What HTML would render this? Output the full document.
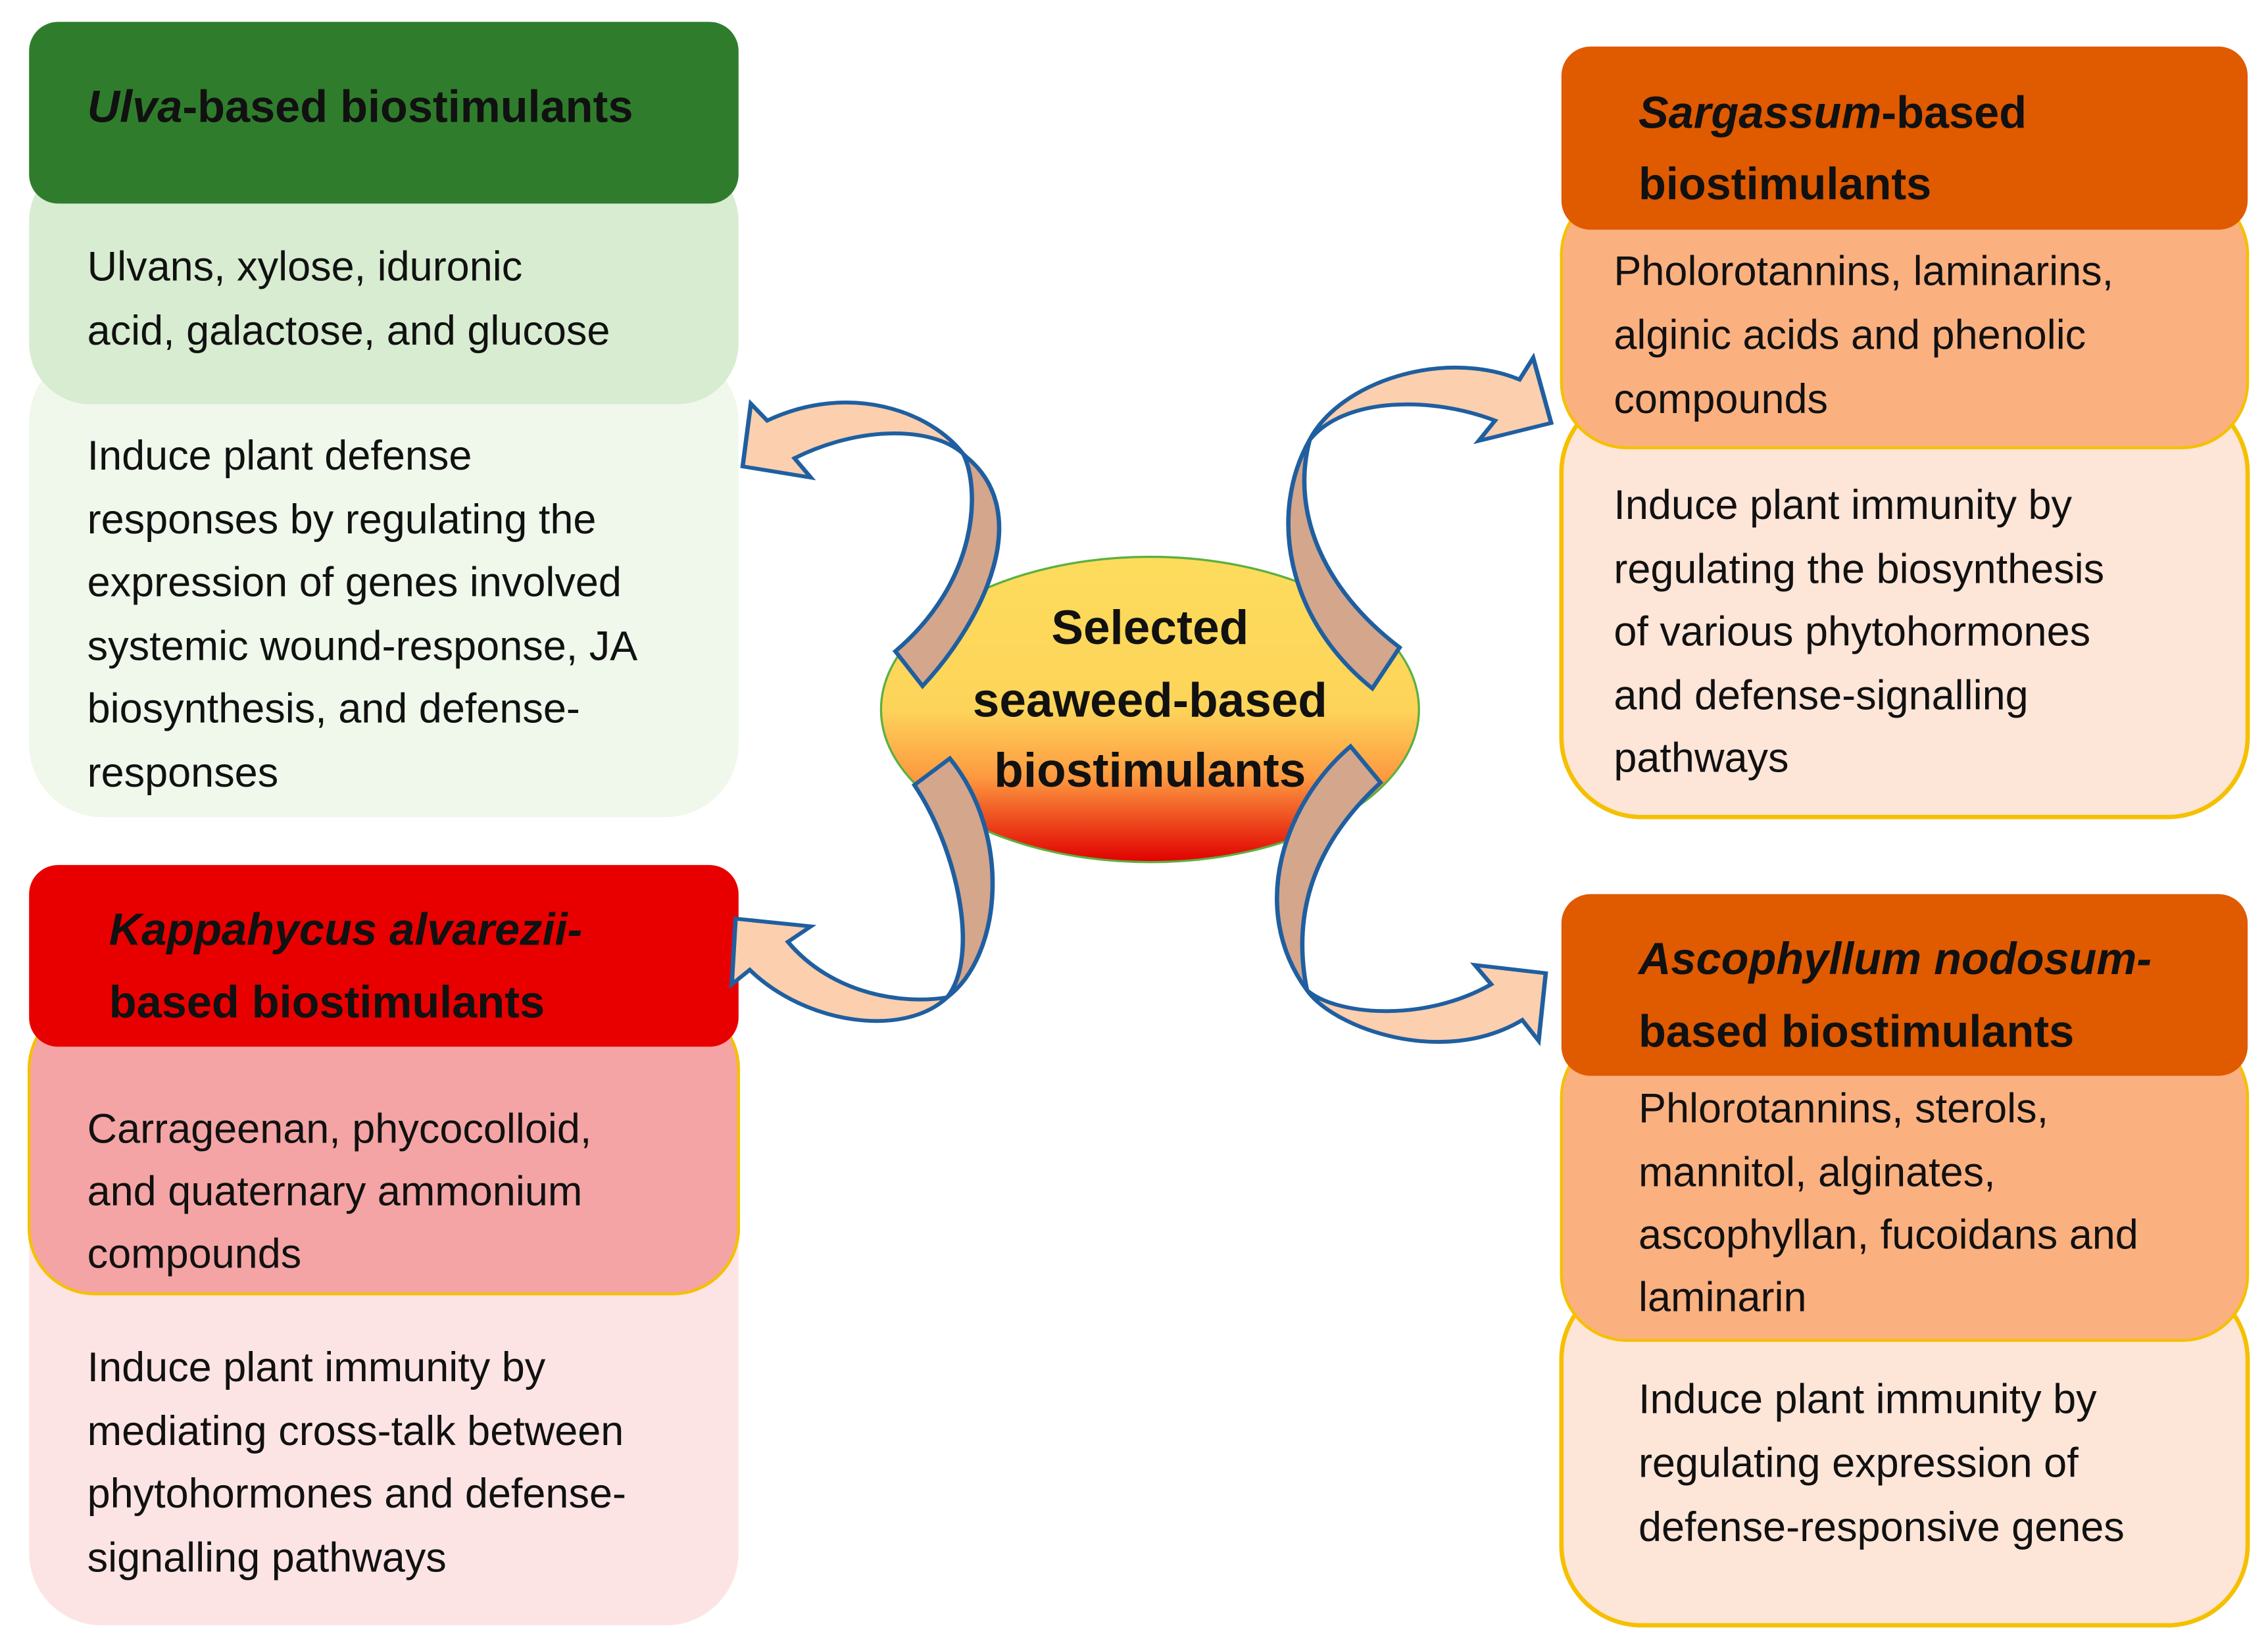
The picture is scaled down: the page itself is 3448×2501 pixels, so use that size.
<!DOCTYPE html>
<html><head><meta charset="utf-8"><style>
html,body{margin:0;padding:0;background:#fff}
svg{display:block}
text{font-family:"Liberation Sans",Arial,sans-serif;fill:#111}
.h{font-weight:bold;font-size:31px}
.b{font-size:28.5px}
.c{font-weight:bold;font-size:33px}
</style></head><body>
<svg width="3448" height="2501" viewBox="0 0 1560 1131.5" xmlns="http://www.w3.org/2000/svg">
<defs>
<linearGradient id="eg" x1="0" y1="0" x2="0" y2="1">
<stop offset="0" stop-color="#fddc5c"/>
<stop offset="0.5" stop-color="#fdd45a"/>
<stop offset="0.72" stop-color="#fd9a40"/>
<stop offset="1" stop-color="#e00000"/>
</linearGradient>
</defs>

<!-- Ulva box -->
<rect x="20" y="240" width="488" height="322" rx="50" fill="#eff8eb"/>
<rect x="20" y="110" width="488" height="168" rx="42" fill="#d7ecd0"/>
<rect x="20" y="15" width="488" height="125" rx="20" fill="#2f7d2c"/>
<text class="h" x="60" y="84"><tspan font-style="italic">Ulva</tspan>-based biostimulants</text>
<text class="b" x="60" y="193">Ulvans, xylose, iduronic</text>
<text class="b" x="60" y="237">acid, galactose, and glucose</text>
<text class="b" x="60" y="323">Induce plant defense</text>
<text class="b" x="60" y="367">responses by regulating the</text>
<text class="b" x="60" y="410">expression of genes involved</text>
<text class="b" x="60" y="454">systemic wound-response, JA</text>
<text class="b" x="60" y="497">biosynthesis, and defense-</text>
<text class="b" x="60" y="541">responses</text>

<!-- Kappa box -->
<rect x="20" y="700" width="488" height="418" rx="50" fill="#fde4e4"/>
<rect x="20" y="690" width="488" height="200" rx="45" fill="#f4a4a4" stroke="#f5c000" stroke-width="2"/>
<rect x="20" y="595" width="488" height="125" rx="20" fill="#e80000"/>
<text class="h" x="75" y="650" font-style="italic">Kappahycus alvarezii-</text>
<text class="h" x="75" y="700">based biostimulants</text>
<text class="b" x="60" y="786">Carrageenan, phycocolloid,</text>
<text class="b" x="60" y="829">and quaternary ammonium</text>
<text class="b" x="60" y="872">compounds</text>
<text class="b" x="60" y="950">Induce plant immunity by</text>
<text class="b" x="60" y="994">mediating cross-talk between</text>
<text class="b" x="60" y="1037">phytohormones and defense-</text>
<text class="b" x="60" y="1081">signalling pathways</text>

<!-- Sargassum box -->
<rect x="1074" y="270" width="472" height="292" rx="55" fill="#fde5d8" stroke="#f5c000" stroke-width="3"/>
<rect x="1074" y="130" width="472" height="178" rx="45" fill="#fbb07f" stroke="#f5c000" stroke-width="2"/>
<rect x="1074" y="32" width="472" height="126" rx="20" fill="#e05a00"/>
<text class="h" x="1127" y="88"><tspan font-style="italic">Sargassum</tspan>-based</text>
<text class="h" x="1127" y="137">biostimulants</text>
<text class="b" x="1110" y="196">Pholorotannins, laminarins,</text>
<text class="b" x="1110" y="240">alginic acids and phenolic</text>
<text class="b" x="1110" y="284">compounds</text>
<text class="b" x="1110" y="357">Induce plant immunity by</text>
<text class="b" x="1110" y="401">regulating the biosynthesis</text>
<text class="b" x="1110" y="444">of various phytohormones</text>
<text class="b" x="1110" y="488">and defense-signalling</text>
<text class="b" x="1110" y="531">pathways</text>

<!-- Ascophyllum box -->
<rect x="1074" y="880" width="472" height="238" rx="55" fill="#fde5d8" stroke="#f5c000" stroke-width="3"/>
<rect x="1074" y="710" width="472" height="212" rx="45" fill="#fbb07f" stroke="#f5c000" stroke-width="2"/>
<rect x="1074" y="615" width="472" height="125" rx="20" fill="#e05a00"/>
<text class="h" x="1127" y="670" font-style="italic">Ascophyllum nodosum-</text>
<text class="h" x="1127" y="720">based biostimulants</text>
<text class="b" x="1127" y="772">Phlorotannins, sterols,</text>
<text class="b" x="1127" y="816">mannitol, alginates,</text>
<text class="b" x="1127" y="859">ascophyllan, fucoidans and</text>
<text class="b" x="1127" y="902">laminarin</text>
<text class="b" x="1127" y="972">Induce plant immunity by</text>
<text class="b" x="1127" y="1016">regulating expression of</text>
<text class="b" x="1127" y="1060">defense-responsive genes</text>

<!-- Center ellipse -->
<ellipse cx="791" cy="488" rx="185" ry="105" fill="url(#eg)" stroke="#5cb040" stroke-width="1.5"/>

<!-- Arrows (traced in zoom coordinates) -->
<g transform="translate(497.7,226.2) scale(0.375,0.332)" stroke="#1f5fa0" stroke-width="8" stroke-linejoin="miter">
<path d="M440,260 C380,170 230,110 80,190 L50,155 L35,285 L160,308 L130,268 C250,200 390,200 445,265 Z" fill="#fccfae"/>
<path d="M440,260 C470,330 470,520 315,668 L365,740 C480,600 570,380 445,265 Z" fill="#d4a68c"/>
<path d="M410,1385 C330,1400 200,1380 118,1270 L160,1238 L22,1222 L15,1358 L48,1328 C150,1440 330,1470 410,1385 Z" fill="#fccfae"/>
<path d="M350,945 C430,1080 470,1300 410,1385 C510,1300 530,1050 415,890 Z" fill="#d4a68c"/>
<path d="M1075,230 C1130,110 1320,40 1460,105 L1485,60 L1518,195 L1385,232 L1415,190 C1300,140 1140,140 1075,230 Z" fill="#fccfae"/>
<path d="M1075,230 C1000,380 1030,600 1190,745 L1240,660 C1100,540 1040,380 1075,230 Z" fill="#d4a68c"/>
<path d="M1070,1370 C1120,1450 1320,1530 1465,1432 L1495,1475 L1508,1335 L1378,1318 L1408,1358 C1280,1440 1120,1420 1070,1370 Z" fill="#fccfae"/>
<path d="M1150,865 C1030,980 960,1200 1070,1370 C1040,1200 1090,1060 1205,940 Z" fill="#d4a68c"/>
</g>

<text class="c" x="791" y="443" text-anchor="middle">Selected</text>
<text class="c" x="791" y="493" text-anchor="middle">seaweed-based</text>
<text class="c" x="791" y="541" text-anchor="middle">biostimulants</text>
</svg>
</body></html>
